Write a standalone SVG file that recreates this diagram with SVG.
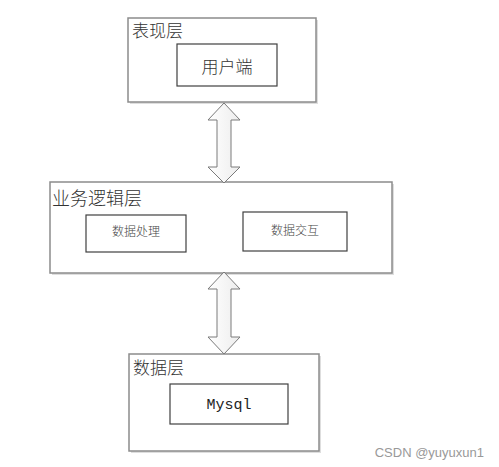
<svg xmlns="http://www.w3.org/2000/svg" width="499" height="467" viewBox="0 0 499 467">
<style>
.outer{fill:#fff;stroke:#8c8c8c;stroke-width:1.5}
.inner{fill:#fff;stroke:#404040;stroke-width:1.2}
.shadow{fill:#dedede}
.lbl{font-family:"Noto Sans CJK SC","Noto Sans",sans-serif;font-size:17px;font-weight:300;fill:#333}
.sm{font-family:"Noto Sans CJK SC","Noto Sans",sans-serif;font-size:12px;font-weight:300;fill:#444;text-anchor:middle}
.arrow{fill:url(#g);stroke:#7a7a7a;stroke-width:1}
</style>
<defs>
<linearGradient id="g" x1="0" y1="0" x2="1" y2="0">
<stop offset="0" stop-color="#ffffff"/>
<stop offset="1" stop-color="#ededed"/>
</linearGradient>
</defs>
<rect width="499" height="467" fill="#fff"/>
<g id="presentation">
<rect class="shadow" x="130" y="20" width="188" height="84"/>
<rect class="outer" x="128" y="18" width="188" height="84"/>
<text class="lbl" x="132" y="37">表现层</text>
</g>
<g id="client">
<rect class="inner" x="177" y="44" width="100" height="42"/>
<text class="lbl" x="227" y="73" text-anchor="middle">用户端</text>
</g>
<g id="business">
<rect class="shadow" x="52" y="184" width="342" height="91"/>
<rect class="outer" x="50" y="182" width="342" height="91"/>
<text class="lbl" x="52" y="205" style="font-size:18px">业务逻辑层</text>
</g>
<g id="processing">
<rect class="inner" x="86" y="215" width="100" height="37"/>
<text class="sm" x="136" y="236">数据处理</text>
</g>
<g id="interaction">
<rect class="inner" x="243" y="212" width="104" height="39"/>
<text class="sm" x="295" y="235">数据交互</text>
</g>
<g id="data">
<rect class="shadow" x="131" y="356" width="190" height="97"/>
<rect class="outer" x="129" y="354" width="190" height="97"/>
<text class="lbl" x="133" y="374">数据层</text>
</g>
<g id="mysql">
<rect class="inner" x="170" y="384" width="118" height="40"/>
<text x="229" y="409" text-anchor="middle" font-family="Liberation Mono, monospace" font-size="15" fill="#222">Mysql</text>
</g>
<g id="connectors">
<polygon class="arrow" points="224,103 240,120 231,120 231,167 240,167 224,183 208,167 217,167 217,120 208,120"/>
<polygon class="arrow" points="224,272 240,289 231,289 231,337 240,337 224,354 208,337 217,337 217,289 208,289"/>
</g>
<text x="484" y="457" text-anchor="end" font-family="Liberation Sans, Arial, sans-serif" font-size="13" fill="#999">CSDN @yuyuxun1</text>
</svg>
